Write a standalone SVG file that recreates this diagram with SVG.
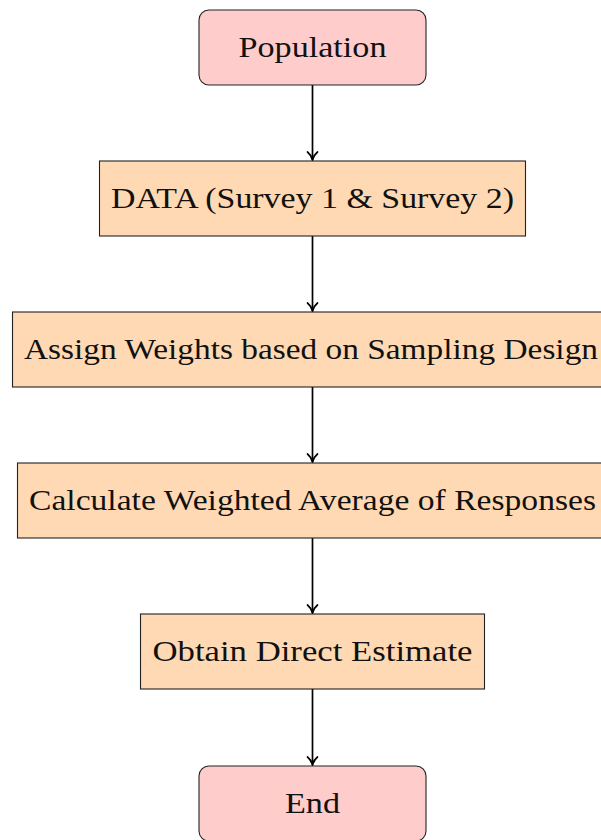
<svg xmlns="http://www.w3.org/2000/svg" width="601" height="840" viewBox="0 0 601 840">
<style>
.term{fill:#ffcccc;stroke:#222;stroke-width:1.1}
.proc{fill:#ffd9b3;stroke:#222;stroke-width:1.1}
.lbl{font-family:"Liberation Serif","DejaVu Serif",serif;font-size:29px;fill:#111;text-anchor:middle}
.edge{stroke:#000;stroke-width:1.7;fill:none;marker-end:url(#ah)}
</style>
<defs>
<marker id="ah" markerUnits="userSpaceOnUse" viewBox="-10 -7 12 14" refX="0" refY="0" markerWidth="12" markerHeight="14" orient="auto">
<path d="M -8,-5 C -5.5,-1.8 -1.8,-0.5 0,0 C -1.8,0.5 -5.5,1.8 -8,5" stroke="#000" stroke-width="1.7" fill="none" stroke-linecap="round"/>
</marker>
</defs>
<g id="connectors">
<line class="edge" x1="312.5" y1="85" x2="312.5" y2="160"/>
<line class="edge" x1="312.5" y1="236" x2="312.5" y2="311"/>
<line class="edge" x1="312.5" y1="387" x2="312.5" y2="462"/>
<line class="edge" x1="312.5" y1="538" x2="312.5" y2="613"/>
<line class="edge" x1="312.5" y1="689" x2="312.5" y2="765"/>
</g>
<g id="population">
<rect class="term" x="199" y="10" width="227" height="75" rx="10"/>
<text class="lbl" x="312.5" y="57" textLength="148" lengthAdjust="spacingAndGlyphs">Population</text>
</g>
<g id="data">
<rect class="proc" x="99.5" y="161" width="426" height="75"/>
<text class="lbl" x="312.5" y="208" textLength="403" lengthAdjust="spacingAndGlyphs">DATA (Survey 1 &amp; Survey 2)</text>
</g>
<g id="assign">
<rect class="proc" x="12.5" y="312" width="600" height="75"/>
<text class="lbl" x="311" y="359" textLength="574" lengthAdjust="spacingAndGlyphs">Assign Weights based on Sampling Design</text>
</g>
<g id="calculate">
<rect class="proc" x="17.5" y="463" width="590" height="75"/>
<text class="lbl" x="312.5" y="510" textLength="567" lengthAdjust="spacingAndGlyphs">Calculate Weighted Average of Responses</text>
</g>
<g id="obtain">
<rect class="proc" x="140.5" y="614" width="344" height="75"/>
<text class="lbl" x="312.5" y="661" textLength="320" lengthAdjust="spacingAndGlyphs">Obtain Direct Estimate</text>
</g>
<g id="end">
<rect class="term" x="199" y="766" width="227" height="75" rx="10"/>
<text class="lbl" x="312.5" y="813" textLength="55" lengthAdjust="spacingAndGlyphs">End</text>
</g>
</svg>
